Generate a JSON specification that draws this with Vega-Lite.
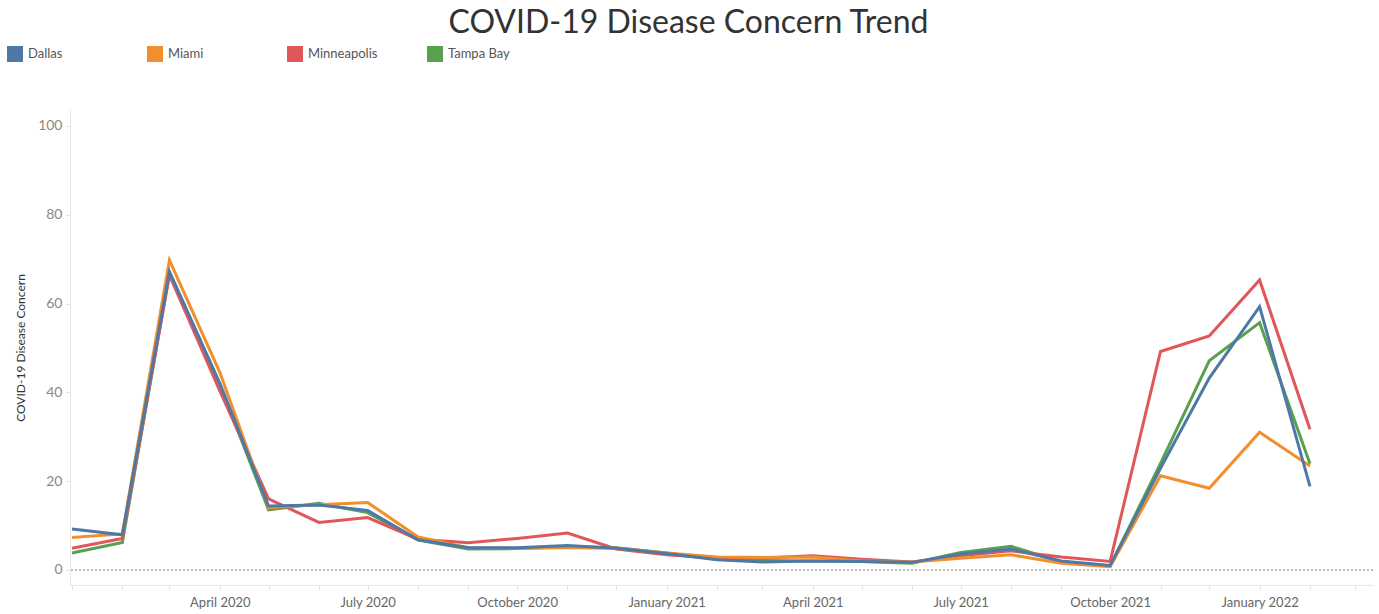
{
  "$schema": "https://vega.github.io/schema/vega-lite/v6.json",
  "width": 1303,
  "height": 475,
  "autosize": "none",
  "padding": {"left": 70, "top": 110, "right": 6, "bottom": 29},
  "background": "white",
  "title": {
    "text": "COVID-19 Disease Concern Trend",
    "font": "Lato",
    "fontSize": 32,
    "fontWeight": "normal",
    "color": "#333333",
    "anchor": "middle",
    "baseline": "alphabetic",
    "dx": -33,
    "dy": 32,
    "offset": 13
  },
  "config": {
    "view": {"stroke": null},
    "font": "Lato"
  },
  "data": {
    "values": [
      {"city": "Tampa Bay", "date": "2020-01-01", "value": 3.8},
      {"city": "Tampa Bay", "date": "2020-02-01", "value": 6.2},
      {"city": "Tampa Bay", "date": "2020-03-01", "value": 66.8},
      {"city": "Tampa Bay", "date": "2020-04-01", "value": 41.8},
      {"city": "Tampa Bay", "date": "2020-05-01", "value": 13.5},
      {"city": "Tampa Bay", "date": "2020-06-01", "value": 15.0},
      {"city": "Tampa Bay", "date": "2020-07-01", "value": 12.9},
      {"city": "Tampa Bay", "date": "2020-08-01", "value": 6.7},
      {"city": "Tampa Bay", "date": "2020-09-01", "value": 4.7},
      {"city": "Tampa Bay", "date": "2020-10-01", "value": 4.8},
      {"city": "Tampa Bay", "date": "2020-11-01", "value": 5.2},
      {"city": "Tampa Bay", "date": "2020-12-01", "value": 5.0},
      {"city": "Tampa Bay", "date": "2021-01-01", "value": 3.8},
      {"city": "Tampa Bay", "date": "2021-02-01", "value": 2.4},
      {"city": "Tampa Bay", "date": "2021-03-01", "value": 2.1},
      {"city": "Tampa Bay", "date": "2021-04-01", "value": 2.0},
      {"city": "Tampa Bay", "date": "2021-05-01", "value": 1.9},
      {"city": "Tampa Bay", "date": "2021-06-01", "value": 1.5},
      {"city": "Tampa Bay", "date": "2021-07-01", "value": 3.9},
      {"city": "Tampa Bay", "date": "2021-08-01", "value": 5.3},
      {"city": "Tampa Bay", "date": "2021-09-01", "value": 1.8},
      {"city": "Tampa Bay", "date": "2021-10-01", "value": 0.9},
      {"city": "Tampa Bay", "date": "2021-11-01", "value": 24.0},
      {"city": "Tampa Bay", "date": "2021-12-01", "value": 47.1},
      {"city": "Tampa Bay", "date": "2022-01-01", "value": 55.7},
      {"city": "Tampa Bay", "date": "2022-02-01", "value": 23.9},
      {"city": "Minneapolis", "date": "2020-01-01", "value": 4.9},
      {"city": "Minneapolis", "date": "2020-02-01", "value": 7.1},
      {"city": "Minneapolis", "date": "2020-03-01", "value": 66.4},
      {"city": "Minneapolis", "date": "2020-04-01", "value": 40.3},
      {"city": "Minneapolis", "date": "2020-05-01", "value": 16.0},
      {"city": "Minneapolis", "date": "2020-06-01", "value": 10.7},
      {"city": "Minneapolis", "date": "2020-07-01", "value": 11.8},
      {"city": "Minneapolis", "date": "2020-08-01", "value": 6.9},
      {"city": "Minneapolis", "date": "2020-09-01", "value": 6.1},
      {"city": "Minneapolis", "date": "2020-10-01", "value": 7.1},
      {"city": "Minneapolis", "date": "2020-11-01", "value": 8.3},
      {"city": "Minneapolis", "date": "2020-12-01", "value": 4.7},
      {"city": "Minneapolis", "date": "2021-01-01", "value": 3.4},
      {"city": "Minneapolis", "date": "2021-02-01", "value": 2.6},
      {"city": "Minneapolis", "date": "2021-03-01", "value": 2.7},
      {"city": "Minneapolis", "date": "2021-04-01", "value": 3.2},
      {"city": "Minneapolis", "date": "2021-05-01", "value": 2.4},
      {"city": "Minneapolis", "date": "2021-06-01", "value": 1.8},
      {"city": "Minneapolis", "date": "2021-07-01", "value": 3.2},
      {"city": "Minneapolis", "date": "2021-08-01", "value": 4.3},
      {"city": "Minneapolis", "date": "2021-09-01", "value": 2.9},
      {"city": "Minneapolis", "date": "2021-10-01", "value": 1.9},
      {"city": "Minneapolis", "date": "2021-11-01", "value": 49.2},
      {"city": "Minneapolis", "date": "2021-12-01", "value": 52.7},
      {"city": "Minneapolis", "date": "2022-01-01", "value": 65.3},
      {"city": "Minneapolis", "date": "2022-02-01", "value": 31.7},
      {"city": "Miami", "date": "2020-01-01", "value": 7.3},
      {"city": "Miami", "date": "2020-02-01", "value": 8.1},
      {"city": "Miami", "date": "2020-03-01", "value": 69.8},
      {"city": "Miami", "date": "2020-04-01", "value": 44.5},
      {"city": "Miami", "date": "2020-05-01", "value": 14.0},
      {"city": "Miami", "date": "2020-06-01", "value": 14.7},
      {"city": "Miami", "date": "2020-07-01", "value": 15.2},
      {"city": "Miami", "date": "2020-08-01", "value": 7.4},
      {"city": "Miami", "date": "2020-09-01", "value": 5.0},
      {"city": "Miami", "date": "2020-10-01", "value": 4.9},
      {"city": "Miami", "date": "2020-11-01", "value": 5.0},
      {"city": "Miami", "date": "2020-12-01", "value": 4.9},
      {"city": "Miami", "date": "2021-01-01", "value": 3.8},
      {"city": "Miami", "date": "2021-02-01", "value": 2.9},
      {"city": "Miami", "date": "2021-03-01", "value": 2.8},
      {"city": "Miami", "date": "2021-04-01", "value": 2.9},
      {"city": "Miami", "date": "2021-05-01", "value": 2.0},
      {"city": "Miami", "date": "2021-06-01", "value": 1.8},
      {"city": "Miami", "date": "2021-07-01", "value": 2.6},
      {"city": "Miami", "date": "2021-08-01", "value": 3.4},
      {"city": "Miami", "date": "2021-09-01", "value": 1.5},
      {"city": "Miami", "date": "2021-10-01", "value": 0.7},
      {"city": "Miami", "date": "2021-11-01", "value": 21.2},
      {"city": "Miami", "date": "2021-12-01", "value": 18.4},
      {"city": "Miami", "date": "2022-01-01", "value": 31.0},
      {"city": "Miami", "date": "2022-02-01", "value": 23.4},
      {"city": "Dallas", "date": "2020-01-01", "value": 9.2},
      {"city": "Dallas", "date": "2020-02-01", "value": 7.9},
      {"city": "Dallas", "date": "2020-03-01", "value": 67.2},
      {"city": "Dallas", "date": "2020-04-01", "value": 42.0},
      {"city": "Dallas", "date": "2020-05-01", "value": 14.4},
      {"city": "Dallas", "date": "2020-06-01", "value": 14.6},
      {"city": "Dallas", "date": "2020-07-01", "value": 13.4},
      {"city": "Dallas", "date": "2020-08-01", "value": 6.8},
      {"city": "Dallas", "date": "2020-09-01", "value": 5.0},
      {"city": "Dallas", "date": "2020-10-01", "value": 5.0},
      {"city": "Dallas", "date": "2020-11-01", "value": 5.5},
      {"city": "Dallas", "date": "2020-12-01", "value": 4.9},
      {"city": "Dallas", "date": "2021-01-01", "value": 3.7},
      {"city": "Dallas", "date": "2021-02-01", "value": 2.3},
      {"city": "Dallas", "date": "2021-03-01", "value": 1.8},
      {"city": "Dallas", "date": "2021-04-01", "value": 2.0},
      {"city": "Dallas", "date": "2021-05-01", "value": 1.9},
      {"city": "Dallas", "date": "2021-06-01", "value": 1.7},
      {"city": "Dallas", "date": "2021-07-01", "value": 3.6},
      {"city": "Dallas", "date": "2021-08-01", "value": 4.7},
      {"city": "Dallas", "date": "2021-09-01", "value": 2.0},
      {"city": "Dallas", "date": "2021-10-01", "value": 1.0},
      {"city": "Dallas", "date": "2021-11-01", "value": 22.9},
      {"city": "Dallas", "date": "2021-12-01", "value": 43.2},
      {"city": "Dallas", "date": "2022-01-01", "value": 59.3},
      {"city": "Dallas", "date": "2022-02-01", "value": 18.8}
    ]
  },
  "layer": [
    {
      "mark": {"type": "rule", "color": "#bdbdbd", "strokeWidth": 1, "strokeDash": [2, 2]},
      "encoding": {"y": {"datum": 0, "type": "quantitative"}}
    },
    {
      "mark": {"type": "line", "strokeWidth": 3, "strokeJoin": "miter", "clip": true},
      "encoding": {
        "x": {
          "field": "date",
          "type": "temporal",
          "scale": {
            "type": "utc",
            "domain": [
              {"year": 2019, "month": 12, "date": 30, "hours": 19, "utc": true},
              {"year": 2022, "month": 3, "date": 11, "hours": 19, "utc": true}
            ],
            "nice": false
          },
          "axis": {
            "title": null,
            "grid": false,
            "tickCount": {"interval": "month", "step": 1},
            "labelExpr": "(utcmonth(datum.value) % 3 == 0 && !(utcyear(datum.value) == 2020 && utcmonth(datum.value) == 0)) ? utcFormat(datum.value, '%B %Y') : ''",
            "labelOverlap": false,
            "labelFlush": false,
            "labelFont": "Lato",
            "labelFontSize": 13,
            "labelColor": "#666666",
            "labelPadding": 6,
            "tickColor": "#e6e6e6",
            "tickSize": 5,
            "domainColor": "#e6e6e6"
          }
        },
        "y": {
          "field": "value",
          "type": "quantitative",
          "scale": {"domain": [-3.4, 103.6], "nice": false, "zero": false},
          "axis": {
            "title": "COVID-19 Disease Concern",
            "titleFont": "Lato",
            "titleFontSize": 12,
            "titleFontWeight": "normal",
            "titleColor": "#333333",
            "titlePadding": 10,
            "values": [0, 20, 40, 60, 80, 100],
            "labelFont": "Lato",
            "labelFontSize": 14,
            "labelColor": "#888888",
            "labelPadding": 3,
            "tickColor": "#e6e6e6",
            "tickSize": 5,
            "gridColor": "#efefef",
            "domainColor": "#e6e6e6"
          }
        },
        "color": {
          "field": "city",
          "type": "nominal",
          "scale": {
            "domain": ["Dallas", "Miami", "Minneapolis", "Tampa Bay"],
            "range": ["#4e79a7", "#f28e2b", "#e15759", "#59a14f"]
          },
          "legend": {
            "title": null,
            "orient": "none",
            "legendX": -63,
            "legendY": -64,
            "direction": "horizontal",
            "columns": 4,
            "gridAlign": "all",
            "columnPadding": 37,
            "symbolType": "square",
            "symbolSize": 64,
            "symbolStrokeWidth": 8,
            "symbolOpacity": 1,
            "labelFont": "Lato",
            "labelFontSize": 13,
            "labelColor": "#555555",
            "labelOffset": 5
          }
        }
      }
    }
  ]
}
